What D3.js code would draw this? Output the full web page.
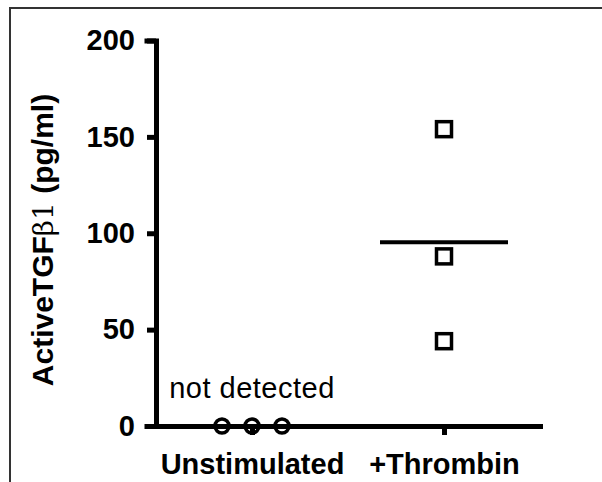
<!DOCTYPE html>
<html>
<head>
<meta charset="utf-8">
<script src="https://cdn.jsdelivr.net/npm/d3@7"></script>
<style>
	body { margin: 0; background: #fff; }
	svg { display: block; }
	text { font-family: "Liberation Sans", Arial, sans-serif; }
</style>
</head>
<body>
<script>
// chart data
var categories = ["Unstimulated", "+Thrombin"];
var unstimValues = [0, 0, 0];
var thrombinValues = [154, 88, 44];
var yTicks = [0, 50, 100, 150, 200];
var yLabel = "ActiveTGF";
var noteText = "not detected";

var width = 602,
	height = 482;

var svg = d3.select("body")
	.append("svg")
	.attr("width", width)
	.attr("height", height);

// frame round the figure
svg.append("path")
	.attr("d", "M10,482 V8 H602")
	.attr("fill", "none")
	.attr("stroke", "#333")
	.attr("stroke-width", 2);

var y = d3.scaleLinear()
	.domain([0, 200])
	.range([426, 40.5]);

var x = d3.scalePoint()
	.domain(categories)
	.range([156, 540])
	.padding(0.5);

// y axis
var yAxis = svg.append("g")
	.attr("transform", "translate(156,0)")
	.call(d3.axisLeft(y)
		.tickValues(yTicks)
		.tickSize(9)
		.tickPadding(12));
yAxis.selectAll("path, line")
	.attr("stroke", "#000")
	.attr("stroke-width", 5);
yAxis.selectAll("text")
	.attr("font-size", 29)
	.attr("font-weight", "bold")
	.attr("fill", "#000");

// x axis
var xAxis = svg.append("g")
	.attr("transform", "translate(0,426)")
	.call(d3.axisBottom(x)
		.tickSize(9)
		.tickSizeOuter(0)
		.tickPadding(18));
xAxis.selectAll("path, line")
	.attr("stroke", "#000")
	.attr("stroke-width", 5);
xAxis.selectAll("text")
	.attr("font-size", 29)
	.attr("font-weight", "bold")
	.attr("fill", "#000");

svg.selectAll(".domain").attr("stroke-linecap", "square");

// y axis title
var title = svg.append("text")
	.attr("transform", "translate(53,240) rotate(-90)")
	.attr("text-anchor", "middle")
	.attr("font-size", 30)
	.attr("font-weight", "bold")
	.attr("fill", "#000");
title.append("tspan").text(yLabel);
title.append("tspan")
	.attr("font-weight", "normal")
	.attr("font-family", "'DejaVu Serif', serif")
	.attr("font-size", 28)
	.text("\u03b21");
title.append("tspan").text(" (pg/ml)");

// unstimulated points (jittered)
svg.selectAll(".unstim")
	.data(unstimValues)
	.enter().append("circle")
	.attr("class", "unstim")
	.attr("cx", function(d, i) { return x(categories[0]) + (i - 1) * 30; })
	.attr("cy", function(d) { return y(d); })
	.attr("r", 7)
	.attr("fill", "none")
	.attr("stroke", "#000")
	.attr("stroke-width", 3.5);

svg.append("text")
	.attr("x", x(categories[0]))
	.attr("y", 398)
	.attr("text-anchor", "middle")
	.attr("font-size", 29)
	.attr("letter-spacing", 0.5)
	.attr("fill", "#000")
	.text(noteText);

// thrombin points
svg.selectAll(".thr")
	.data(thrombinValues)
	.enter().append("rect")
	.attr("class", "thr")
	.attr("x", x(categories[1]) - 7.5)
	.attr("y", function(d) { return y(d) - 7.5; })
	.attr("width", 15)
	.attr("height", 15)
	.attr("fill", "none")
	.attr("stroke", "#000")
	.attr("stroke-width", 3.5);

// mean line
svg.append("line")
	.attr("x1", x(categories[1]) - 64)
	.attr("x2", x(categories[1]) + 64)
	.attr("y1", y(d3.mean(thrombinValues)))
	.attr("y2", y(d3.mean(thrombinValues)))
	.attr("stroke", "#000")
	.attr("stroke-width", 4);
</script>
</body>
</html>
